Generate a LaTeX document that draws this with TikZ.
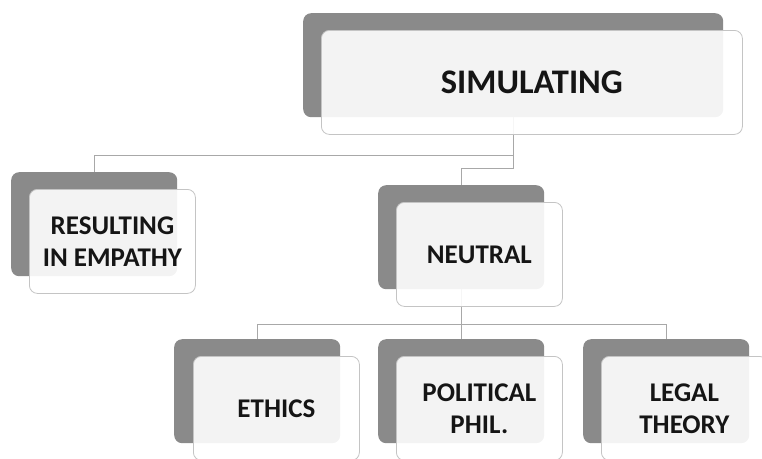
\documentclass[tikz,border=0pt]{standalone}
\usepackage{fontspec}
\setmainfont{Carlito}
\definecolor{shade}{HTML}{8A8A8A}
\definecolor{frame}{HTML}{C4C4C4}
\definecolor{linkc}{HTML}{A8A8A8}
\definecolor{txt}{HTML}{151515}
\tikzset{
  back/.style={fill=shade, draw=none, rounded corners=8pt, inner sep=0pt,
    anchor=north west, minimum width=166pt, minimum height=104pt},
  front/.style={fill=white, fill opacity=0.9, text opacity=1, draw=frame, line width=0.8pt,
    rounded corners=8pt, inner sep=0pt, anchor=north west,
    minimum width=166pt, minimum height=104pt, align=center, text=txt,
    font=\fontsize{27}{32}\selectfont\bfseries},
  link/.style={draw=linkc, line width=1pt}
}
\begin{document}
\begin{tikzpicture}[x=1pt,y=-1pt]
\useasboundingbox (0,0) rectangle (762,458);
\clip (0,0) rectangle (762,458);
% shadow boxes
\node[back, minimum width=420pt] (topb) at (303,13) {};
\node[back] (resb) at (11,172) {};
\node[back] (neub) at (378,185) {};
\node[back] (ethb) at (174,339) {};
\node[back] (polb) at (378,339) {};
\node[back] (legb) at (583,339) {};
% connectors
\draw[link] (topb.south) -- ++(0,38) -| (resb.north);
\draw[link] (topb.south) -- ++(0,51) -| (neub.north);
\draw[link] (neub.south) -- ++(0,35) -| (ethb.north);
\draw[link] (neub.south) -- ++(0,35) -| (polb.north);
\draw[link] (neub.south) -- ++(0,35) -| (legb.north);
% front boxes
\node[front, minimum width=421pt, font=\fontsize{34.5}{40}\selectfont\bfseries] (top) at (321,30) {SIMULATING};
\node[front] (res) at (29,189) {RESULTING\\IN EMPATHY};
\node[front] (neu) at (396,202) {NEUTRAL};
\node[front] (eth) at (193,356) {ETHICS};
\node[front] (pol) at (396,356) {POLITICAL\\PHIL.};
\node[front] (leg) at (601,356) {LEGAL\\THEORY};
\end{tikzpicture}
\end{document}
